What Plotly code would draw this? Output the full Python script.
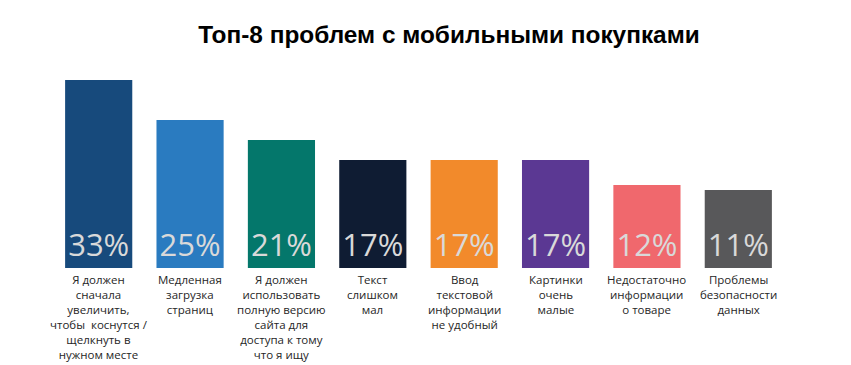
import plotly.graph_objects as go

categories = [
    "Я должен<br>сначала<br>увеличить,<br>чтобы  коснутся /<br>щелкнуть в<br>нужном месте",
    "Медленная<br>загрузка<br>страниц",
    "Я должен<br>использовать<br>полную версию<br>сайта для<br>доступа к тому<br>что я ищу",
    "Текст<br>слишком<br>мал",
    "Ввод<br>текстовой<br>информации<br>не удобный",
    "Картинки<br>очень<br>малые",
    "Недостаточно<br>информации<br>о товаре",
    "Проблемы<br>безопасности<br>данных",
]
values = [33, 25, 21, 17, 17, 17, 12, 11]
labels = ["33%", "25%", "21%", "17%", "17%", "17%", "12%", "11%"]
colors = ["#174a7c", "#2a7bc0", "#04776b", "#0f1c33", "#f28a2b", "#5b3893", "#f0686d", "#58585a"]

BASE = -4.6  # visual baseline offset of the original chart
x_idx = list(range(len(categories)))

fig = go.Figure(go.Bar(
    x=x_idx,
    y=[v - BASE for v in values],
    base=BASE,
    marker=dict(color=colors, line=dict(width=0)),
    width=0.735,
    text=labels,
    textposition="inside",
    insidetextanchor="start",
    constraintext="none",
    textfont=dict(family="Open Sans", size=31, color="#d9d9d9"),
    customdata=values,
    hovertemplate="%{customdata}%<extra></extra>",
))

annotations = [
    dict(x=i, y=BASE, xref="x", yref="y", text=cat, showarrow=False,
         xanchor="center", yanchor="top", yshift=-2, align="center",
         font=dict(family="Open Sans", size=11.5, color="#262626"))
    for i, cat in enumerate(categories)
]

fig.update_layout(
    width=851, height=365,
    margin=dict(l=53, r=67, t=80, b=97, autoexpand=False),
    paper_bgcolor="white", plot_bgcolor="white",
    showlegend=False,
    annotations=annotations,
    title=dict(text="<b>Топ-8 проблем с мобильными покупками</b>",
               font=dict(family="Liberation Sans, Arial", size=24.4, color="black"),
               x=0.5276, xref="container", xanchor="center", y=0.906, yanchor="middle"),
    xaxis=dict(range=[-0.5, 7.5], showgrid=False, zeroline=False, showline=False,
               showticklabels=False, ticks=""),
    yaxis=dict(range=[BASE, 33], visible=False, showgrid=False, zeroline=False),
)

fig.write_html("out.html", config={"displayModeBar": False},
               post_script="document.body.style.margin='0';")
